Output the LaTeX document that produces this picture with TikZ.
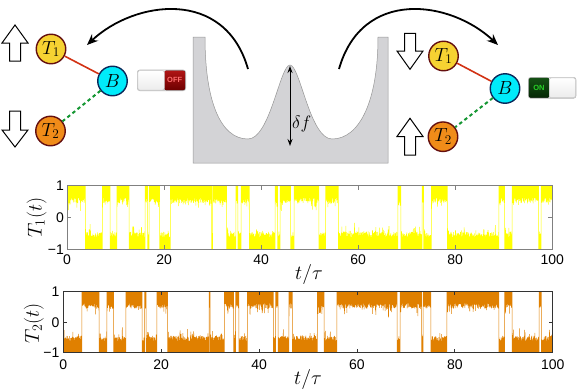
\RequirePackage{fix-cm}
\documentclass[tikz,border=0pt]{standalone}
\usepackage[no-math]{fontspec}
\newfontfamily\tickfont{Liberation Sans}
\usetikzlibrary{arrows.meta}
\definecolor{tbord}{RGB}{100,15,15}
\definecolor{bbord}{RGB}{10,40,90}
\definecolor{t1fill}{RGB}{246,210,50}
\definecolor{t2fill}{RGB}{240,140,25}
\definecolor{bfill}{RGB}{0,235,250}
\definecolor{linkred}{RGB}{210,50,20}
\definecolor{linkgreen}{RGB}{20,150,50}
\definecolor{wellfill}{RGB}{211,211,214}
\definecolor{wellbord}{RGB}{150,150,150}
\definecolor{ploty}{RGB}{255,255,0}
\definecolor{ploto}{RGB}{224,128,0}
\definecolor{offred1}{RGB}{175,20,20}
\definecolor{offred2}{RGB}{110,0,0}
\definecolor{offtxt}{RGB}{255,110,110}
\definecolor{ongreen1}{RGB}{20,80,20}
\definecolor{ongreen2}{RGB}{5,40,5}
\definecolor{ontxt}{RGB}{40,210,40}
\def\segs{1/0/76,-1/76/146,1/146/178,-1/178/206,1/206/256,-1/256/322,1/322/332,-1/332/338,1/338/382,-1/382/426,1/426/596,-1/596/600,1/600/658,-1/658/696,1/696/704,-1/704/718,1/718/752,-1/752/858,1/858/868,-1/868/878,1/878/922,-1/922/936,1/936/1038,-1/1038/1066,1/1066/1118,-1/1118/1364,1/1364/1376,-1/1376/1464,1/1464/1470,-1/1470/1502,1/1502/1568,-1/1568/1780,1/1780/1804,-1/1804/1834,1/1834/1944,-1/1944/1954,1/1954/2000}
\begin{document}
\begin{tikzpicture}[x=1pt,y=-1pt,
 tn/.style={circle, draw=tbord, line width=1.4pt, minimum size=29.5pt, inner sep=0pt, font=\fontsize{19}{19}\selectfont},
 t1n/.style={tn, fill=t1fill},
 t2n/.style={tn, fill=t2fill},
 bn/.style={circle, draw=bbord, line width=1.4pt, fill=bfill, minimum size=29.5pt, inner sep=0pt, font=\fontsize{19}{19}\selectfont},
 redlink/.style={draw=linkred, line width=1.6pt},
 greenlink/.style={draw=linkgreen, line width=2pt, dash pattern=on 3.5pt off 3pt},
 bigarrow/.style={draw=black, fill=white, line width=1pt, line join=miter},
 swing/.style={line width=1.8pt, -{Stealth[length=11pt,width=9pt]}},
 ticklab/.style={font=\tickfont\fontsize{14}{14}\selectfont, inner sep=0pt},
 axlab/.style={font=\fontsize{20}{20}\selectfont, inner sep=0pt},
 swtxt/.style={font=\tickfont\bfseries\fontsize{7.5}{7.5}\selectfont, inner sep=0pt}
]
\useasboundingbox (0,0) rectangle (581,391);

% ---------- double well ----------
\filldraw[fill=wellfill, draw=wellbord, line width=0.5pt]
 (193,37) -- (205,37) .. controls (205,100) and (220,139) .. (248,139)
 .. controls (270,139) and (280,65) .. (290,65)
 .. controls (300,65) and (310,139) .. (332,139)
 .. controls (360,139) and (378,100) .. (378,37)
 -- (388,37) -- (388,163) -- (193,163) -- cycle;
\coordinate (dtop) at (290,66);
\coordinate (dbot) at (290,146);
\draw[line width=1pt, {Stealth[length=7pt,width=5pt]}-{Stealth[length=7pt,width=5pt]}] (dtop) -- (dbot);
\node[anchor=west, inner sep=0pt, font=\fontsize{18}{18}\selectfont] (df) at (292,124) {$\delta f$};

% ---------- swing arrows ----------
\coordinate (la) at (248,69);
\coordinate (lb) at (87,45);
\coordinate (ra) at (339,69);
\coordinate (rb) at (498,45);
\draw[swing] (la) .. controls (225,-12) and (135,0) .. (lb);
\draw[swing] (ra) .. controls (362,-12) and (450,0) .. (rb);

% ---------- left configuration ----------
\node[t1n] (T1L) at (51,49) {$T_1$};
\node[bn] (BL) at (112.5,81) {$B$};
\node[t2n] (T2L) at (50.5,131) {$T_2$};
\draw[redlink] (T1L) -- (BL);
\draw[greenlink] (BL) -- (T2L);
\draw[bigarrow] (15,25) -- (28,43) -- (20.5,43) -- (20.5,61) -- (9.5,61) -- (9.5,43) -- (2,43) -- cycle;
\draw[bigarrow] (9.5,111) -- (20.5,111) -- (20.5,130) -- (28,130) -- (15,147) -- (2,130) -- (9.5,130) -- cycle;
% OFF switch
\draw[draw=gray!55, line width=0.6pt, rounded corners=2.5pt, top color=white, bottom color=gray!30] (137.3,70) rectangle (185.7,90.7);
\fill[rounded corners=2pt, top color=offred1, bottom color=offred2] (164.3,70.6) rectangle (185.1,90.1);
\draw[draw=gray!45, line width=0.5pt, rounded corners=2pt, top color=white, bottom color=gray!15] (137.9,70.6) rectangle (164.3,90.1);
\node[swtxt, text=offtxt] (offt) at (174.7,80.4) {OFF};

% ---------- right configuration ----------
\node[t1n] (T1R) at (443.5,56) {$T_1$};
\node[bn] (BR) at (505,88.5) {$B$};
\node[t2n] (T2R) at (443,136.7) {$T_2$};
\draw[redlink] (T1R) -- (BR);
\draw[greenlink] (BR) -- (T2R);
\draw[bigarrow] (404.5,33.3) -- (415.5,33.3) -- (415.5,51) -- (423,51) -- (410,69.3) -- (397,51) -- (404.5,51) -- cycle;
\draw[bigarrow] (410,118.3) -- (423,136.5) -- (415.5,136.5) -- (415.5,155) -- (404.5,155) -- (404.5,136.5) -- (397,136.5) -- cycle;
% ON switch
\draw[draw=gray!55, line width=0.6pt, rounded corners=2.5pt, top color=white, bottom color=gray!30] (528.3,77.3) rectangle (576,98.3);
\fill[rounded corners=2pt, top color=ongreen1, bottom color=ongreen2] (528.9,77.9) rectangle (549.3,97.7);
\draw[draw=gray!45, line width=0.5pt, rounded corners=2pt, top color=white, bottom color=gray!15] (549.3,77.9) rectangle (575.4,97.7);
\node[swtxt, text=ontxt] (ont) at (539,87.8) {ON};

% ---------- plot 1 ----------
\pgfmathsetseed{4711}
\begin{scope}[shift={(67,217.5)}, xscale=4.853, yscale=-31.8]
 \begin{scope}
  \clip (0,-1) rectangle (100,1);
  \draw[ploty, line width=0.5pt, line join=bevel] (0,1)
   \foreach \s/\a/\b in \segs {
     \foreach \i in {\a,...,\b} { -- ({\i/20},{\s*(1-mod(\i,2)*(0.38+0.17*rnd+0.3*rnd^10))}) }
   };
 \end{scope}
 \draw[gray, line width=0.9pt] (0,-1) rectangle (100,1);
 \foreach \t in {20,40,60,80} {
   \draw[gray, line width=0.8pt] (\t,-1) -- ++(0,0.12);
   \draw[gray, line width=0.8pt] (\t,1) -- ++(0,-0.12);
 }
 \draw[gray, line width=0.8pt] (0,0) -- ++(0.8,0);
 \draw[gray, line width=0.8pt] (100,0) -- ++(-0.8,0);
 \node[ticklab, anchor=east] (p1y1) at (-0.6,1) {1};
 \node[ticklab, anchor=east] (p1y0) at (-0.6,0) {0};
 \node[ticklab, anchor=east] (p1ym) at (-0.6,-1) {−1};
 \foreach \t in {0,20,40,60,80,100} {
   \node[ticklab, anchor=north, yshift=-5.7pt] (p1x\t) at (\t,-1) {\t};
 }
\end{scope}
\node[axlab, rotate=90] (lab1) at (36.5,217.5) {$T_1(t)$};
\node[axlab] (tau1) at (309,274) {$t/\tau$};

% ---------- plot 2 ----------
\begin{scope}[shift={(63.3,322.2)}, xscale=4.894, yscale=-30.5]
 \begin{scope}
  \clip (0,-1) rectangle (100,1);
  \draw[ploto, line width=0.5pt, line join=bevel] (0,-1)
   \foreach \s/\a/\b in \segs {
     \foreach \i in {\a,...,\b} { -- ({\i/20},{-1*(\s)*(1-mod(\i,2)*(0.38+0.17*rnd+0.3*rnd^10))}) }
   };
 \end{scope}
 \draw[black!80, line width=0.9pt] (0,-1) rectangle (100,1);
 \foreach \t in {20,40,60,80} {
   \draw[black!80, line width=0.8pt] (\t,-1) -- ++(0,0.12);
   \draw[black!80, line width=0.8pt] (\t,1) -- ++(0,-0.12);
 }
 \draw[black!80, line width=0.8pt] (0,0) -- ++(0.8,0);
 \draw[black!80, line width=0.8pt] (100,0) -- ++(-0.8,0);
 \node[ticklab, anchor=east] (p2y1) at (-0.75,1) {1};
 \node[ticklab, anchor=east] (p2y0) at (-0.75,0) {0};
 \node[ticklab, anchor=east] (p2ym) at (-0.75,-1) {−1};
 \foreach \t in {0,20,40,60,80,100} {
   \node[ticklab, anchor=north, yshift=-7pt] (p2x\t) at (\t,-1) {\t};
 }
\end{scope}
\node[axlab, rotate=90] (lab2) at (34,323) {$T_2(t)$};
\node[axlab] (tau2) at (308,379) {$t/\tau$};
\end{tikzpicture}
\end{document}
